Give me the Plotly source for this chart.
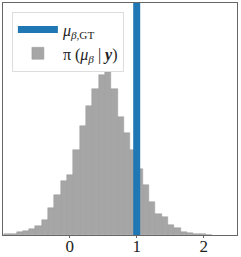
import plotly.graph_objects as go

# Histogram of posterior samples (density)
bin_start = -0.983
bin_width = 0.0943
density = [0.004, 0.008, 0.017, 0.025, 0.038, 0.059, 0.097, 0.173, 0.253, 0.340,
           0.380, 0.538, 0.690, 0.818, 0.924, 1.013, 1.034, 0.924, 0.745, 0.644,
           0.538, 0.418, 0.317, 0.207, 0.131, 0.114, 0.061, 0.044, 0.022, 0.013,
           0.006, 0.004, 0.003]
bin_centers = [bin_start + bin_width * (i + 0.5) for i in range(len(density))]

mu_gt = 1.0
x_range = [-0.996, 2.497]
y_range = [0, 1.469]
tick_vals = [0, 1, 2]
tick_text = ["0", "1", "2"]

FONT = "Liberation Serif"

fig = go.Figure()
fig.add_trace(go.Bar(
    x=bin_centers, y=density, width=bin_width,
    marker=dict(color="#a6a6a6", line=dict(color="#999999", width=0.5)),
    name="π (<i>μ</i><sub><i>β</i></sub> | <b><i>y</i></b>)",
    legendrank=2,
))
fig.add_trace(go.Scatter(
    x=[mu_gt, mu_gt], y=y_range, mode="lines",
    line=dict(color="#1f77b4", width=7),
    name="<i>μ</i><sub><i>β</i>,GT</sub>",
    legendrank=1,
))

fig.update_layout(
    width=241, height=257,
    margin=dict(l=3, r=4, t=3, b=22, autoexpand=False),
    plot_bgcolor="white", paper_bgcolor="white",
    bargap=0,
    font=dict(family=FONT, size=17, color="#222222"),
    showlegend=True,
    legend=dict(
        x=0.038, y=0.963, xanchor="left", yanchor="top",
        bgcolor="rgba(255,255,255,0.85)", bordercolor="#dddddd", borderwidth=1,
        font=dict(family=FONT, size=16),
        itemwidth=40,
        tracegroupgap=0,
    ),
)
fig.update_xaxes(
    range=x_range, tickvals=tick_vals, ticktext=tick_text,
    showgrid=False, zeroline=False, automargin=False,
    showline=True, linecolor="#666666", linewidth=1, mirror=True,
    ticks="outside", ticklen=2, tickcolor="#666666",
    ticklabelstandoff=-6,
    tickfont=dict(family=FONT, size=17),
)
fig.update_yaxes(
    range=y_range, showticklabels=False, showgrid=False, zeroline=False,
    automargin=False,
    showline=True, linecolor="#666666", linewidth=1, mirror=True, ticks="",
)

fig.write_html(
    "out.html",
    config={"displayModeBar": False},
    post_script="document.body.style.margin='0px';document.body.style.padding='0px';",
)
